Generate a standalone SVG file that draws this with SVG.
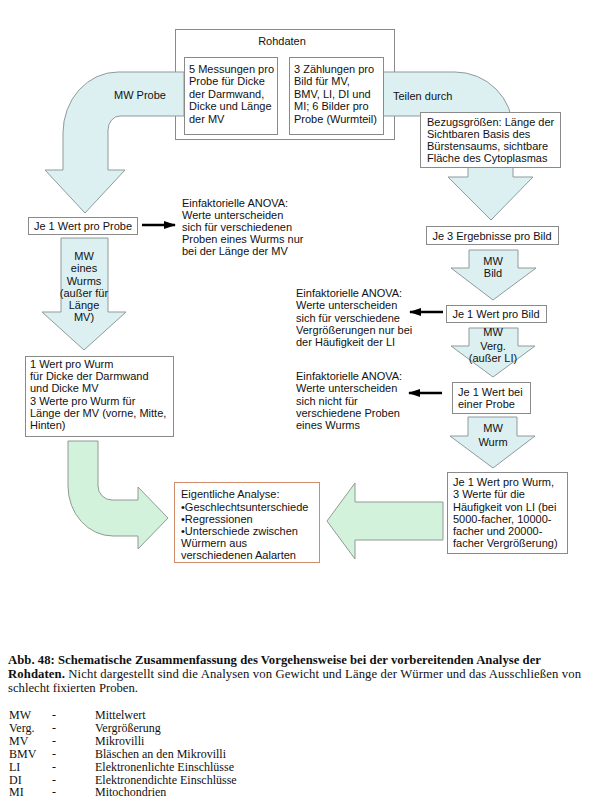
<svg xmlns="http://www.w3.org/2000/svg" width="590" height="800" viewBox="0 0 590 800">
<defs>
<style>
.t{font-family:"Liberation Sans",Arial,sans-serif;font-size:11px;fill:#111}
.c{text-anchor:middle}
.box{fill:#fff;stroke:#8a8a8a;stroke-width:1}
.blue{fill:#dcf0f1;stroke:#8f9a9c;stroke-width:1}
.green{fill:#d3f2dc;stroke:#8f9a93;stroke-width:1}
.cap{font-family:"Liberation Serif","Times New Roman",serif;font-size:12.7px;fill:#111}
.leg{font-family:"Liberation Serif","Times New Roman",serif;font-size:12px;fill:#111}
.b{font-weight:bold}
.blk{stroke:#000;stroke-width:2.6;fill:none}
</style>
<marker id="ah" viewBox="0 0 12 8" refX="11" refY="4" markerWidth="12" markerHeight="8" markerUnits="userSpaceOnUse" orient="auto">
<path d="M0,0 L12,4 L0,8 Z" fill="#000"/>
</marker>
</defs>
<rect width="590" height="800" fill="#fff"/>

<g id="rohdaten">
<rect class="box" x="175.5" y="29.5" width="219" height="110"/>
<text class="t c" x="282" y="45">Rohdaten</text>
</g>

<g id="connectors">
<path id="arrow-mw-probe" class="blue" d="M184,72 L118,72 A55,61 0 0 0 63,133 L63,170 L45,170 L85,213 L125,170 L108,170 L108,130 A12,14 0 0 1 120,116 L184,116 Z"/>
<path id="arrow-teilen" class="blue" d="M383,72 L455,72 A58,58 0 0 1 513,130 L513,177 L533,177 L491,220 L448,177 L468,177 L468,130 A13,14 0 0 0 455,116 L383,116 Z"/>
<path id="arrow-mw-wurms" class="blue" d="M61,238 L108,238 L108,312 L126,312 L84,350 L42,312 L61,312 Z"/>
<path id="arrow-mw-bild" class="blue" d="M469,250 L518,250 L518,268 L536,268 L493,300 L451,268 L469,268 Z"/>
<path id="arrow-mw-verg" class="blue" d="M469,328 L518,328 L518,346 L535,346 L493,377 L451,346 L469,346 Z"/>
<path id="arrow-mw-wurm" class="blue" d="M468,417 L517,417 L517,436 L535,436 L493,468 L450,436 L468,436 Z"/>
<path id="arrow-green-left" class="green" d="M68,441 L68,486 A45,50 0 0 0 113,536 L138,536 L138,549 L168,518 L138,487 L138,500 L112,500 A14,14 0 0 1 98,486 L98,441 Z"/>
<path id="arrow-green-right" class="green" d="M443,502 L355,502 L355,483 L327,521 L355,559 L355,540 L443,540 Z"/>
<line class="blk" x1="142" y1="225" x2="175" y2="225" marker-end="url(#ah)"/>
<line class="blk" x1="443" y1="312" x2="410" y2="312" marker-end="url(#ah)"/>
<line class="blk" x1="442" y1="393" x2="409" y2="393" marker-end="url(#ah)"/>
</g>

<g id="labels">
<text class="t c" x="140" y="99">MW Probe</text>
<text class="t" x="393" y="100">Teilen durch</text>
<text class="t c" x="84"><tspan x="84" y="260">MW</tspan><tspan x="84" y="272">eines</tspan><tspan x="84" y="285">Wurms</tspan><tspan x="84" y="297">(außer für</tspan><tspan x="84" y="309">Länge</tspan><tspan x="84" y="321">MV)</tspan></text>
<text class="t c"><tspan x="493" y="265">MW</tspan><tspan x="493" y="277">Bild</tspan></text>
<text class="t c"><tspan x="493" y="336">MW</tspan><tspan x="493" y="350">Verg.</tspan><tspan x="493" y="362">(außer LI)</tspan></text>
<text class="t c"><tspan x="493" y="432">MW</tspan><tspan x="493" y="446">Wurm</tspan></text>
</g>

<g id="messungen">
<rect class="box" x="184.5" y="57.5" width="93" height="77"/>
<text class="t"><tspan x="189" y="73">5 Messungen pro</tspan><tspan x="189" y="85.4">Probe für Dicke</tspan><tspan x="189" y="97.8">der Darmwand,</tspan><tspan x="189" y="110.2">Dicke und Länge</tspan><tspan x="189" y="122.6">der MV</tspan></text>
</g>

<g id="zaehlungen">
<rect class="box" x="289.5" y="57.5" width="94" height="77"/>
<text class="t"><tspan x="294" y="73">3 Zählungen pro</tspan><tspan x="294" y="85.4">Bild für MV,</tspan><tspan x="294" y="97.8">BMV, LI, DI und</tspan><tspan x="294" y="110.2">MI; 6 Bilder pro</tspan><tspan x="294" y="122.6">Probe (Wurmteil)</tspan></text>
</g>

<g id="bezug">
<rect class="box" x="420.5" y="112.5" width="140" height="55"/>
<text class="t"><tspan x="427" y="126">Bezugsgrößen: Länge der</tspan><tspan x="427" y="138">Sichtbaren Basis des</tspan><tspan x="427" y="150">Bürstensaums, sichtbare</tspan><tspan x="427" y="162">Fläche des Cytoplasmas</tspan></text>
</g>

<g id="je1probe">
<rect class="box" x="28.5" y="217.5" width="109" height="17"/>
<text class="t c" x="83" y="229.5">Je 1 Wert pro Probe</text>
</g>

<g id="anova1">
<text class="t"><tspan x="182" y="207">Einfaktorielle ANOVA:</tspan><tspan x="182" y="219">Werte unterscheiden</tspan><tspan x="182" y="231">sich für verschiedenen</tspan><tspan x="182" y="243">Proben eines Wurms nur</tspan><tspan x="182" y="255">bei der Länge der MV</tspan></text>
</g>

<g id="je3bild">
<rect class="box" x="426.5" y="226.5" width="132" height="18"/>
<text class="t c" x="492" y="239.5">Je 3 Ergebnisse pro Bild</text>
</g>

<g id="je1bild">
<rect class="box" x="446.5" y="305.5" width="100" height="17"/>
<text class="t c" x="496" y="317.5">Je 1 Wert pro Bild</text>
</g>

<g id="anova2">
<text class="t"><tspan x="296" y="297">Einfaktorielle ANOVA:</tspan><tspan x="296" y="309">Werte unterscheiden</tspan><tspan x="296" y="321.5">sich für verschiedene</tspan><tspan x="296" y="334">Vergrößerungen nur bei</tspan><tspan x="296" y="346">der Häufigkeit der LI</tspan></text>
</g>

<g id="je1probe2">
<rect class="box" x="452.5" y="382.5" width="78" height="31"/>
<text class="t"><tspan x="458" y="396">Je 1 Wert bei</tspan><tspan x="458" y="408">einer Probe</tspan></text>
</g>

<g id="anova3">
<text class="t"><tspan x="296" y="380">Einfaktorielle ANOVA:</tspan><tspan x="296" y="392">Werte unterscheiden</tspan><tspan x="296" y="405">sich nicht für</tspan><tspan x="296" y="417">verschiedene Proben</tspan><tspan x="296" y="429">eines Wurms</tspan></text>
</g>

<g id="wurm-left">
<rect class="box" x="25.5" y="356.5" width="148" height="80"/>
<text class="t"><tspan x="30" y="368">1 Wert pro Wurm</tspan><tspan x="30" y="380.2">für Dicke der Darmwand</tspan><tspan x="30" y="392.4">und Dicke MV</tspan><tspan x="30" y="404.6">3 Werte pro Wurm für</tspan><tspan x="30" y="416.8">Länge der MV (vorne, Mitte,</tspan><tspan x="30" y="429">Hinten)</tspan></text>
</g>

<g id="wurm-right">
<rect class="box" x="447.5" y="472.5" width="120" height="81"/>
<text class="t"><tspan x="453" y="486">Je 1 Wert pro Wurm,</tspan><tspan x="453" y="498">3 Werte für die</tspan><tspan x="453" y="511">Häufigkeit von LI (bei</tspan><tspan x="453" y="523">5000-facher, 10000-</tspan><tspan x="453" y="535">facher und 20000-</tspan><tspan x="453" y="547">facher Vergrößerung)</tspan></text>
</g>

<g id="analyse">
<rect x="174.5" y="482.5" width="145" height="80" fill="#fff" stroke="#d08a6c" stroke-width="1"/>
<text class="t"><tspan x="181" y="498">Eigentliche Analyse:</tspan><tspan x="181" y="510.5">•Geschlechtsunterschiede</tspan><tspan x="181" y="522.5">•Regressionen</tspan><tspan x="181" y="534.5">•Unterschiede zwischen</tspan><tspan x="181" y="547">Würmern aus</tspan><tspan x="181" y="559">verschiedenen Aalarten</tspan></text>
</g>

<g id="caption">
<text class="cap b" x="8" y="664" textLength="533" lengthAdjust="spacing">Abb. 48: Schematische Zusammenfassung des Vorgehensweise bei der vorbereitenden Analyse der</text>
<text class="cap" x="8" y="678" textLength="573" lengthAdjust="spacing"><tspan class="b">Rohdaten.</tspan> Nicht dargestellt sind die Analysen von Gewicht und Länge der Würmer und das Ausschließen von</text>
<text class="cap" x="8" y="692">schlecht fixierten Proben.</text>
</g>

<g id="legend">
<text class="leg"><tspan x="9" y="719">MW</tspan><tspan x="9" y="731.9">Verg.</tspan><tspan x="9" y="744.8">MV</tspan><tspan x="9" y="757.7">BMV</tspan><tspan x="9" y="770.6">LI</tspan><tspan x="9" y="783.5">DI</tspan><tspan x="9" y="796.4">MI</tspan></text>
<text class="leg"><tspan x="52" y="719">-</tspan><tspan x="52" y="731.9">-</tspan><tspan x="52" y="744.8">-</tspan><tspan x="52" y="757.7">-</tspan><tspan x="52" y="770.6">-</tspan><tspan x="52" y="783.5">-</tspan><tspan x="52" y="796.4">-</tspan></text>
<text class="leg"><tspan x="95" y="719">Mittelwert</tspan><tspan x="95" y="731.9">Vergrößerung</tspan><tspan x="95" y="744.8">Mikrovilli</tspan><tspan x="95" y="757.7">Bläschen an den Mikrovilli</tspan><tspan x="95" y="770.6">Elektronenlichte Einschlüsse</tspan><tspan x="95" y="783.5">Elektronendichte Einschlüsse</tspan><tspan x="95" y="796.4">Mitochondrien</tspan></text>
</g>
</svg>
